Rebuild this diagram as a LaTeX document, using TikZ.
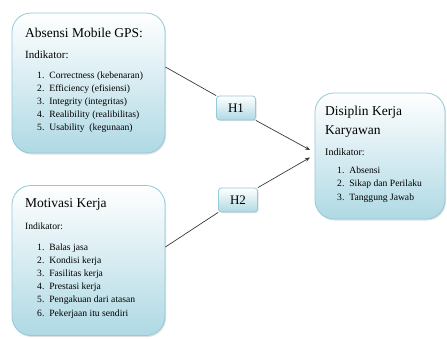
\documentclass[tikz,border=0pt]{standalone}
\usepackage{fontspec}
\setmainfont{Liberation Serif}
\usetikzlibrary{arrows.meta,positioning,shadows}
\definecolor{boxedge}{HTML}{94C9D8}
\definecolor{boxbottom}{HTML}{AFD9E4}
\definecolor{linegray}{HTML}{3A3A3A}
\tikzset{
  varbox/.style={draw=boxedge, line width=0.8pt, rounded corners=19pt, top color=white, bottom color=boxbottom,
    drop shadow={shadow xshift=1pt, shadow yshift=-1.5pt, opacity=0.25}, inner sep=0pt},
  hypbox/.style={draw=boxedge, line width=0.8pt, rounded corners=3pt, top color=white, bottom color=boxbottom,
    drop shadow={shadow xshift=1pt, shadow yshift=-1pt, opacity=0.25},
    minimum width=39pt, minimum height=24pt, inner sep=0pt, font=\fontsize{13}{13}\selectfont},
  titletext/.style={anchor=base west, inner sep=0pt, font=\fontsize{13.5}{15}\selectfont},
  indtext/.style={anchor=base west, inner sep=0pt, font=\fontsize{#1}{12}\selectfont},
  indtext/.default=10,
  itemtext/.style={anchor=base west, inner sep=0pt, font=\fontsize{9.6}{12}\selectfont}
}
\tikzset{
  link/.style={linegray, line width=0.7pt},
  arrowlink/.style={linegray, line width=0.7pt, -{Stealth[length=5pt,width=4pt]}}
}
\begin{document}
\begin{tikzpicture}[x=1pt,y=-1pt]
  \useasboundingbox (0,0) rectangle (447,338);
  % variable boxes
  \node[varbox, minimum width=153pt, minimum height=140pt] (gps) at (88.5,83) {};
  \node[varbox, minimum width=153pt, minimum height=150pt] (motivasi) at (88.5,260.5) {};
  \node[varbox, minimum width=130pt, minimum height=126pt] (disiplin) at (380,156) {};
  % hypotheses
  \node[hypbox] (h1) at (236,108) {H1};
  \node[hypbox] (h2) at (238,200) {H2};
  % texts of the first box
  \node[titletext] (gpstitle) at (25,37) {Absensi Mobile GPS:};
  \node[indtext=11] (gpsind) at (25,58) {Indikator:};
  \foreach \n/\txt [count=\i from 0] in {1/Correctness (kebenaran),2/Efficiency (efisiensi),3/Integrity (integritas),4/Realibility (realibilitas),5/Usability\ \ (kegunaan)}
    \node[itemtext] (gpsitem\n) at (37,{78+13.2*\i}) {\n.\hspace{5pt}\txt};
  % texts of the second box
  \node[titletext] (mottitle) at (25,207) {Motivasi Kerja};
  \node[indtext=9.6] (motind) at (25,229) {Indikator:};
  \foreach \n/\txt [count=\i from 0] in {1/Balas jasa,2/Kondisi kerja,3/Fasilitas kerja,4/Prestasi kerja,5/Pengakuan dari atasan,6/Pekerjaan itu sendiri}
    \node[itemtext] (motitem\n) at (37,{250+13.2*\i}) {\n.\hspace{5pt}\txt};
  % texts of the third box
  \node[titletext] (distitle) at (325,115) {Disiplin Kerja};
  \node[titletext] (distitleb) at (325,134) {Karyawan};
  \node[indtext] (disind) at (325,155) {Indikator:};
  \foreach \n/\txt [count=\i from 0] in {1/Absensi,2/Sikap dan Perilaku,3/Tanggung Jawab}
    \node[itemtext] (disitem\n) at (337,{173+13.6*\i}) {\n.\hspace{5pt}\txt};
  % connectors
  \coordinate (tipa) at (310,150);
  \coordinate (tipb) at (310,157.5);
  \draw[link] (gps.east |- 0,67) -- (h1.north west);
  \draw[arrowlink] (h1.south east) -- (tipa);
  \draw[link] (motivasi.east |- 0,247) -- (h2.south west);
  \draw[arrowlink] (h2.north east) -- (tipb);
\end{tikzpicture}
\end{document}
